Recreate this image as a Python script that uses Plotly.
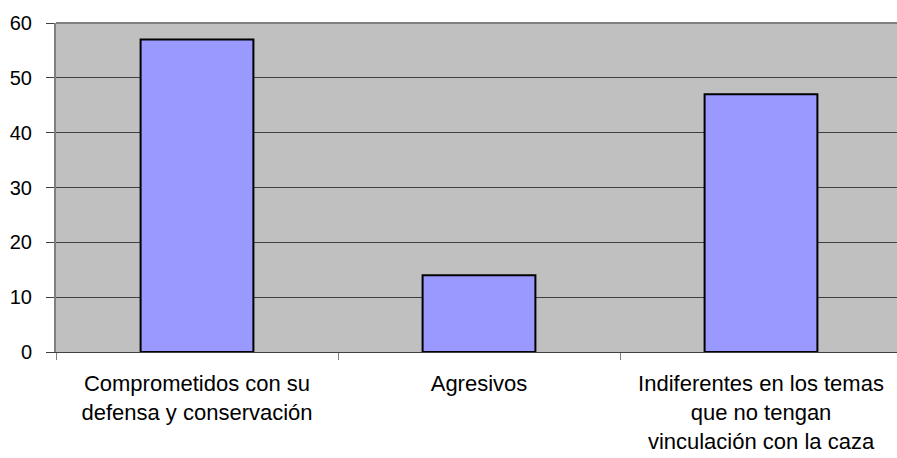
import plotly.graph_objects as go

categories = ["Comprometidos con su<br>defensa y conservación",
              "Agresivos",
              "Indiferentes en los temas<br>que no tengan<br>vinculación con la caza"]
values = [57, 14, 47]
y_ticks = [0, 10, 20, 30, 40, 50, 60]

fig = go.Figure(go.Bar(
    x=categories, y=values, width=0.4,
    marker=dict(color="#9999FF", line=dict(color="black", width=2)),
))

fig.update_layout(
    width=897, height=458,
    margin=dict(l=56, r=0, t=23, b=106, autoexpand=False),
    paper_bgcolor="white", plot_bgcolor="#C0C0C0",
    font=dict(family="Liberation Sans, Arial, sans-serif", size=22, color="black"),
    showlegend=False,
)
fig.update_xaxes(
    type="category", range=[-0.5, -0.5 + 841/282],
    tickson="boundaries", ticks="outside", ticklen=7, tickcolor="#808080",
    showline=True, linecolor="#404040", linewidth=1,
    showgrid=False, tickfont=dict(size=22), ticklabelstandoff=12,
)
fig.update_yaxes(
    range=[0, 60], tickvals=y_ticks, ticks="outside", ticklen=8, tickcolor="#404040",
    showline=True, linecolor="#808080", linewidth=2,
    showgrid=True, gridcolor="#404040", gridwidth=1, zeroline=False,
    tickfont=dict(size=20), ticklabelstandoff=10,
)
fig.add_shape(type="line", xref="paper", yref="paper", x0=0, x1=1, y0=1, y1=1,
              line=dict(color="#808080", width=2))

fig.write_html("out.html", config={"displayModeBar": False},
               post_script="document.body.style.margin='0';document.body.style.overflow='hidden';")
